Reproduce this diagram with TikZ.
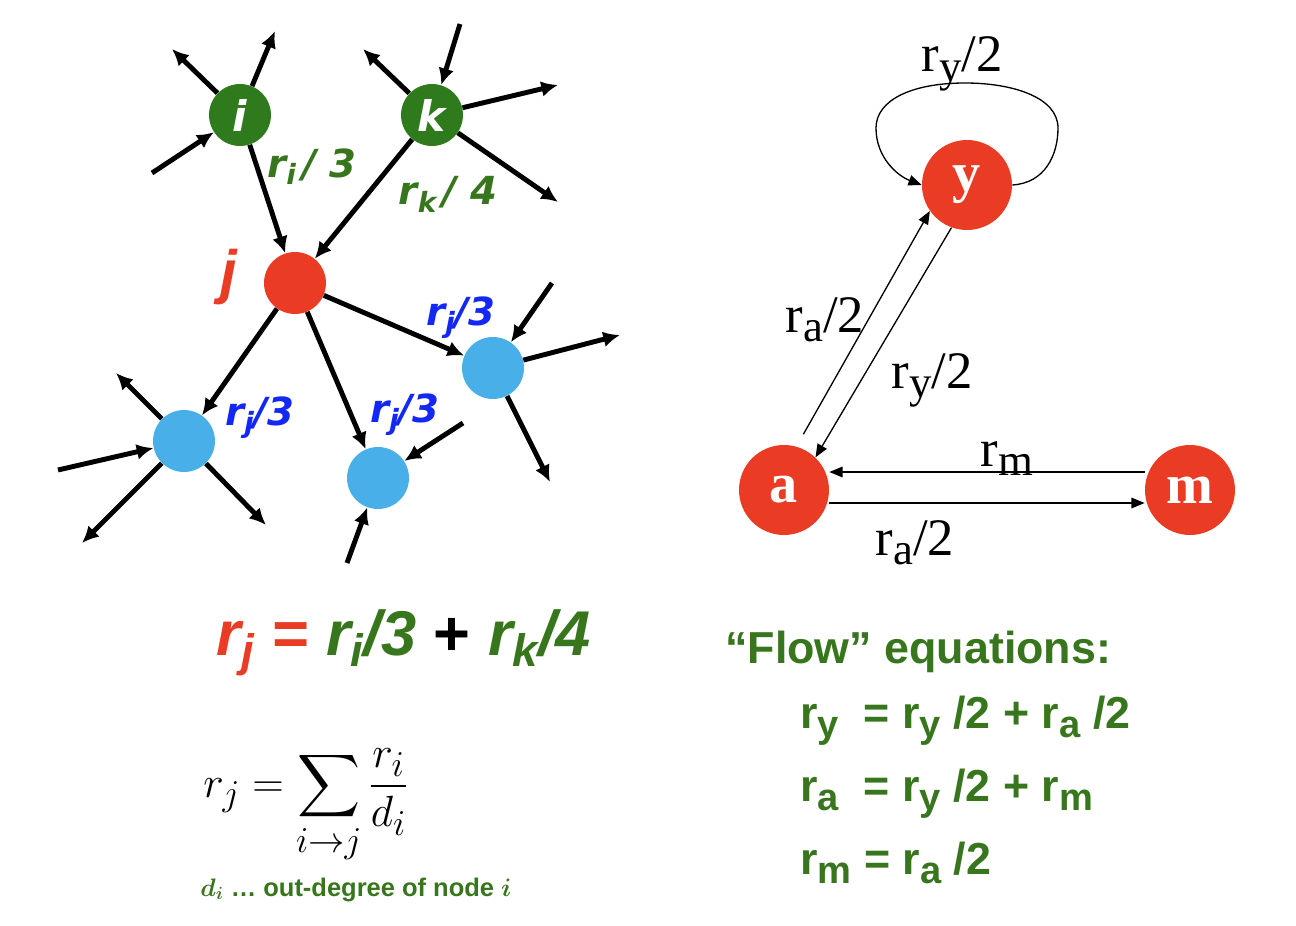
\documentclass[tikz,border=0pt]{standalone}
\usepackage{fontspec}
\usepackage{amsmath}
\usepackage{graphicx}
\setmainfont{Liberation Serif}
\setsansfont{Liberation Sans}
\newfontfamily\labfont{DejaVu Sans}
\usetikzlibrary{arrows.meta}
\definecolor{nodeGreen}{RGB}{48,122,30}
\definecolor{textGreen}{RGB}{56,118,29}
\definecolor{jRed}{RGB}{234,59,36}
\definecolor{nodeBlue}{RGB}{72,175,232}
\definecolor{textBlue}{RGB}{20,40,245}
\newcommand{\lo}[1]{\raisebox{-0.35ex}{\scalebox{0.72}{#1}}}
\newcommand{\lob}[1]{\raisebox{-0.4ex}{\scalebox{0.85}{#1}}}

\begin{document}
\begin{tikzpicture}[x=0.02cm, y=-0.02cm, every node/.style={inner sep=0pt}]
  \tikzset{gnode/.style={circle, minimum size=1.24cm, fill=nodeGreen, text=white, font=\fontsize{24}{28}\selectfont\labfont\bfseries\itshape}}
  \tikzset{rnode/.style={circle, minimum size=1.24cm, fill=jRed}}
  \tikzset{bnode/.style={circle, minimum size=1.24cm, fill=nodeBlue}}
  \tikzset{pnode/.style={circle, minimum size=1.8cm, fill=jRed, text=white, font=\fontsize{32}{36}\selectfont\rmfamily\bfseries}}
  \tikzset{link/.style={line width=2.8pt, -{Latex[length=9.5pt,width=9pt]}}}
  \tikzset{flow/.style={line width=0.75pt, -{Triangle[length=7.5pt,width=6pt]}}}
  \tikzset{glab/.style={anchor=base, text=textGreen, font=\fontsize{22}{26}\selectfont\labfont\bfseries\itshape}}
  \tikzset{blab/.style={anchor=base, text=textBlue, font=\fontsize{22}{26}\selectfont\labfont\bfseries\itshape}}
  \tikzset{tlab/.style={anchor=base, font=\fontsize{30}{34}\selectfont\rmfamily}}
  \tikzset{eqn/.style={anchor=base west, text=textGreen, font=\fontsize{25.5}{30}\selectfont\sffamily\bfseries}}
  \path[use as bounding box, fill=white] (0,0) rectangle (1296,926);
  % left graph
  \node[gnode] (i) at (240,115) {i};
  \node[gnode] (k) at (432,115) {k};
  \node[rnode] (j) at (295,283) {};
  \node[bnode] (b1) at (493,368) {};
  \node[bnode] (b2) at (184,441) {};
  \node[bnode] (b3) at (378,478) {};
  \node[anchor=base, text=jRed, font=\fontsize{34}{38}\selectfont\sffamily\bfseries\itshape] (jlab) at (229,293) {j};
  \coordinate (iout1) at (172,49);
  \coordinate (iout2) at (275,31);
  \coordinate (iin) at (152,173);
  \coordinate (kin) at (460,24);
  \coordinate (kout1) at (363,49);
  \coordinate (kout2) at (558,85);
  \coordinate (kout3) at (558,202);
  \coordinate (b1in) at (552,283);
  \coordinate (b1out1) at (620,335);
  \coordinate (b1out2) at (550,482);
  \coordinate (b2out1) at (116,373);
  \coordinate (b2in) at (58,470);
  \coordinate (b2out2) at (82,543);
  \coordinate (b2out3) at (266,525);
  \coordinate (b3in1) at (463,423);
  \coordinate (b3in2) at (347,563);
  % links into and out of j
  \draw[link] (i) -- (j);
  \draw[link] (k) -- (j);
  \draw[link] (j) -- (b1);
  \draw[link] (j) -- (b2);
  \draw[link] (j) -- (b3);
  % other links
  \draw[link] (i) -- (iout1);
  \draw[link] (i) -- (iout2);
  \draw[link] (iin) -- (i);
  \draw[link] (kin) -- (k);
  \draw[link] (k) -- (kout1);
  \draw[link] (k) -- (kout2);
  \draw[link] (k) -- (kout3);
  \draw[link] (b1in) -- (b1);
  \draw[link] (b1) -- (b1out1);
  \draw[link] (b1) -- (b1out2);
  \draw[link] (b2) -- (b2out1);
  \draw[link] (b2in) -- (b2);
  \draw[link] (b2) -- (b2out2);
  \draw[link] (b2) -- (b2out3);
  \draw[link] (b3in1) -- (b3);
  \draw[link] (b3in2) -- (b3);
  \node[glab] (li) at (312,177) {r\lo{i}\,/ 3};
  \node[glab] (lk) at (448,205) {r\lo{k}\,/ 4};
  \node[blab] (lb1) at (461,325) {r\lo{j}/3};
  \node[blab] (lb2) at (260,425) {r\lo{j}/3};
  \node[blab] (lb3) at (405,422) {r\lo{j}/3};
  % right graph
  \node[pnode] (y) at (967,185) {y};
  \node[pnode] (a) at (784,490) {a};
  \node[pnode] (m) at (1190,490) {m};
  \draw[flow] (y.east) .. controls (1045,183) and (1058,155) .. (1058,128)
    .. controls (1058,97) and (1012,83) .. (965,83)
    .. controls (912,83) and (876,100) .. (876,128)
    .. controls (876,158) and (898,176) .. (y.west);
  \draw[flow, shorten <=0.28cm] (a.74) -- (y.215);
  \draw[flow] (y.250) -- (a.46);
  \draw[flow] ([yshift=0.36cm]m.west) -- ([yshift=0.36cm]a.east);
  \draw[flow] ([yshift=-0.26cm]a.east) -- ([yshift=-0.26cm]m.west);
  \node[tlab] (lyy) at (962,72) {r\lob{y}/2};
  \node[tlab] (lay) at (825,332) {r\lob{a}/2};
  \node[tlab] (lya) at (932,388) {r\lob{y}/2};
  \node[tlab] (lma) at (1007,466) {r\lob{m}};
  \node[tlab] (lam) at (915,555) {r\lob{a}/2};
  % equations
  \node[anchor=base, font=\fontsize{36}{40}\selectfont\sffamily\bfseries\itshape] (rule) at (404,655)
    {\textcolor{jRed}{r\lo{j} =} \textcolor{textGreen}{r\lo{i}/3} {\upshape +} \textcolor{textGreen}{r\lo{k}/4}};
  \node[anchor=base west, font=\fontsize{29}{33}\selectfont] (sum) at (203,797)
    {$\displaystyle r_j = \sum_{i\to j}\frac{r_i}{d_i}$};
  \node[anchor=base west, text=textGreen, font=\fontsize{14.5}{17}\selectfont\sffamily\bfseries] (deg) at (200,896)
    {$\boldsymbol{d_i}$ \dots\ out-degree of node $\boldsymbol{i}$};
  \node[eqn] (ftitle) at (725,663) {``Flow'' equations:};
  \node[eqn] (fy) at (800,728) {r\lob{y}\ \ = r\lob{y} /2 + r\lob{a} /2};
  \node[eqn] (fa) at (800,801) {r\lob{a}\ \ = r\lob{y} /2 + r\lob{m}};
  \node[eqn] (fm) at (800,874) {r\lob{m} = r\lob{a} /2};
\end{tikzpicture}
\end{document}
